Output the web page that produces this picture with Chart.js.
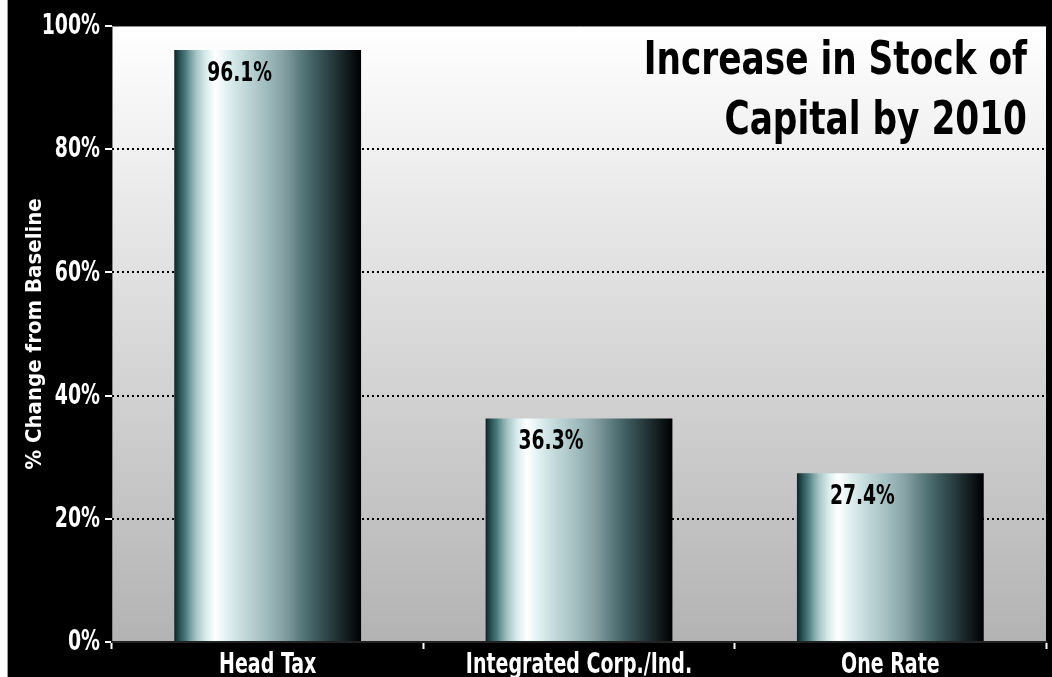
<!DOCTYPE html>
<html>
<head>
<meta charset="utf-8">
<script src="https://cdn.jsdelivr.net/npm/chart.js@4.4.1/dist/chart.umd.min.js"></script>
<style>
  html, body { margin: 0; padding: 0; background: #fff; }
  #wrap { width: 1052px; height: 677px; }
</style>
</head>
<body>
<div id="wrap"><canvas id="capitalChart"></canvas></div>
<script>
// stock of capital, % change from baseline by 2010
const categories = ['Head Tax', 'Integrated Corp./Ind.', 'One Rate'];
const changeValues = [96.1, 36.3, 27.4];
const yTicks = [0, 20, 40, 60, 80, 100];
const titleLines = ['Increase in Stock of', 'Capital by 2010'];

const FONT = "'DejaVu Sans Condensed', 'Liberation Sans Narrow', sans-serif";

// metallic stripe across each bar, dark edges and a bright band left of centre
const metalStops = [
  [0.00, '#0d2426'], [0.03, '#2b5356'], [0.06, '#4a7a7c'], [0.09, '#7ea4a6'],
  [0.12, '#a9c6c7'], [0.17, '#d9ecec'], [0.22, '#ffffff'], [0.28, '#e2f1f1'],
  [0.36, '#c6dcdd'], [0.48, '#a4bfc1'], [0.58, '#86a2a5'], [0.68, '#5a797d'],
  [0.76, '#3c5a5e'], [0.85, '#26383b'], [0.93, '#111a1c'], [1.00, '#000000'],
];

function barFill(c) {
  const chart = c.chart;
  const x = chart.scales.x;
  if (!chart.chartArea || !x) return '#9bb';
  const cx = x.getPixelForValue(c.dataIndex);
  const w = (x.width / categories.length) * 0.6;
  const g = chart.ctx.createLinearGradient(cx - w / 2, 0, cx + w / 2, 0);
  metalStops.forEach(([p, col]) => g.addColorStop(p, col));
  return g;
}

// condensed look for text drawn straight on the canvas
function narrowText(ctx, text, x, y, sx) {
  ctx.save();
  ctx.translate(x, y);
  ctx.scale(sx, 1);
  ctx.fillText(text, 0, 0);
  ctx.restore();
}

const backdrop = {
  id: 'backdrop',
  beforeDraw(chart) {
    const { ctx, width, height, chartArea: a } = chart;
    ctx.save();
    ctx.fillStyle = '#fff';
    ctx.fillRect(0, 0, width, height);
    ctx.fillStyle = '#000';
    ctx.fillRect(7, 0, width - 7, height);
    ctx.fillStyle = '#9a9a9a';
    ctx.fillRect(7, 0, 1, height);
    const g = ctx.createLinearGradient(0, a.top, 0, a.bottom);
    g.addColorStop(0, '#ffffff');
    g.addColorStop(1, '#b3b3b3');
    ctx.fillStyle = g;
    ctx.fillRect(a.left, a.top, a.right - a.left, a.bottom - a.top);
    // thin grey frame on the top and left of the plot
    ctx.strokeStyle = '#8a8a8a';
    ctx.lineWidth = 1;
    ctx.beginPath();
    ctx.moveTo(a.right, a.top + 0.5);
    ctx.lineTo(a.left + 0.5, a.top + 0.5);
    ctx.lineTo(a.left + 0.5, a.bottom);
    ctx.stroke();
    ctx.restore();
  },
};

// tick labels placed from the scales, squeezed to a condensed face
const axisLabels = {
  id: 'axisLabels',
  afterDraw(chart) {
    const { ctx } = chart;
    const x = chart.scales.x;
    const y = chart.scales.y;
    ctx.save();
    ctx.fillStyle = '#fff';
    ctx.font = 'bold 28px ' + FONT;
    ctx.textAlign = 'right';
    ctx.textBaseline = 'middle';
    yTicks.forEach((v) => {
      narrowText(ctx, v + '%', y.right - 12, y.getPixelForValue(v) + 1, 0.75);
    });
    ctx.textAlign = 'center';
    ctx.textBaseline = 'alphabetic';
    categories.forEach((label, i) => {
      narrowText(ctx, label, x.getPixelForValue(i), x.top + 31, 0.755);
    });
    ctx.restore();
  },
};

const valueLabels = {
  id: 'valueLabels',
  afterDatasetsDraw(chart) {
    const { ctx } = chart;
    const meta = chart.getDatasetMeta(0);
    ctx.save();
    ctx.fillStyle = '#000';
    ctx.font = 'bold 27px ' + FONT;
    ctx.textAlign = 'center';
    ctx.textBaseline = 'top';
    meta.data.forEach((bar, i) => {
      narrowText(ctx, changeValues[i].toFixed(1) + '%', bar.x - 28, bar.y + 10, 0.77);
    });
    ctx.restore();
  },
};

const cornerTitle = {
  id: 'cornerTitle',
  afterDraw(chart) {
    const { ctx, chartArea: a } = chart;
    ctx.save();
    ctx.fillStyle = '#000';
    ctx.font = 'bold 46px ' + FONT;
    ctx.textAlign = 'right';
    ctx.textBaseline = 'alphabetic';
    titleLines.forEach((line, i) => {
      narrowText(ctx, line, a.right - 19, 74 + i * 60, 0.83);
    });
    ctx.restore();
  },
};

new Chart(document.getElementById('capitalChart'), {
  type: 'bar',
  data: {
    labels: categories,
    datasets: [{
      data: changeValues,
      backgroundColor: barFill,
      borderWidth: 0,
      barPercentage: 0.6,
      categoryPercentage: 1,
    }],
  },
  options: {
    responsive: true,
    maintainAspectRatio: false,
    animation: false,
    layout: { padding: { left: 7, top: 26, right: 6, bottom: 0 } },
    plugins: { legend: { display: false }, tooltip: { enabled: false } },
    scales: {
      x: {
        afterFit: (s) => { s.height = 35; },
        border: { display: true, color: '#222', width: 2 },
        grid: { drawOnChartArea: false, drawTicks: true, tickLength: 7, tickColor: '#fff', tickWidth: 2, offset: true },
        ticks: { display: false },
      },
      y: {
        min: 0,
        max: 100,
        afterFit: (s) => { s.width = 105; },
        afterBuildTicks: (s) => { s.ticks = yTicks.map(v => ({ value: v })); },
        // frame line comes from the backdrop; dash here applies to the grid lines
        border: { display: false, dash: [2, 3] },
        grid: {
          color: (c) => (c.tick && c.tick.value > 0 && c.tick.value < 100) ? '#000' : 'rgba(0,0,0,0)',
          lineWidth: 2,
          drawTicks: true,
          tickLength: 7,
          tickColor: '#fff',
          tickWidth: 2,
          tickBorderDash: [],
        },
        ticks: { display: false },
        title: {
          display: true,
          text: '% Change from Baseline',
          color: '#fff',
          font: { family: FONT, size: 22, weight: 'bold' },
          padding: { top: 15, bottom: 0 },
        },
      },
    },
  },
  plugins: [backdrop, axisLabels, valueLabels, cornerTitle],
});
</script>
</body>
</html>
